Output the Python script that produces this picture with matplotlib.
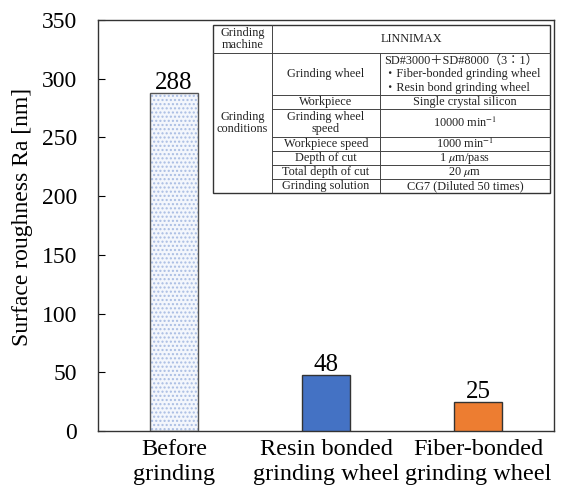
import matplotlib
matplotlib.use("Agg")
import matplotlib.pyplot as plt
from matplotlib.patches import Rectangle
from matplotlib.lines import Line2D

plt.rcParams['font.family'] = ['Liberation Serif', 'Noto Sans CJK JP', 'DejaVu Sans']
plt.rcParams['mathtext.fontset'] = 'stix'

categories = ["Before\ngrinding", "Resin bonded\ngrinding wheel", "Fiber-bonded\ngrinding wheel"]
values = [288, 48, 25]
bar_colors = ["#f3f6fc", "#4472C4", "#ED7D31"]
y_ticks = [0, 50, 100, 150, 200, 250, 300, 350]

# table content
table_rows = [
    ("Workpiece", "Single crystal silicon"),
    ("Grinding wheel\nspeed", r"10000 min$^{-1}$"),
    ("Workpiece speed", r"1000 min$^{-1}$"),
    ("Depth of cut", r"1 $\mu$m/pass"),
    ("Total depth of cut", r"20 $\mu$m"),
    ("Grinding solution", "CG7 (Diluted 50 times)"),
]
wheel_lines = ["SD#3000＋SD#8000（3：1）", "・Fiber-bonded grinding wheel", "・Resin bond grinding wheel"]

W, H = 564, 488
fig = plt.figure(figsize=(W / 100, H / 100), dpi=100)
ax = fig.add_axes([98 / W, 1 - 431 / H, (554 - 98) / W, (431 - 20) / H])

x = list(range(len(categories)))
bw = 0.32
# first bar: dotted fill
ax.bar(x[0], values[0], bw, color=bar_colors[0], edgecolor="#a9bde3", hatch="....", linewidth=0, zorder=2)
ax.bar(x[0], values[0], bw, fill=False, edgecolor="#555555", linewidth=1.0, zorder=3)
ax.bar(x[1:], values[1:], bw, color=bar_colors[1:], edgecolor="#333333", linewidth=1.0, zorder=3)

for xi, v in zip(x, values):
    ax.annotate(str(v), (xi, v), xytext=(0, -1), textcoords="offset points",
                ha="center", va="bottom", fontsize=18)

ax.set_xlim(-0.5, 2.5)
ax.set_ylim(0, 350)
ax.set_yticks(y_ticks)
ax.set_xticks(x)
ax.set_xticklabels(categories, fontsize=17.5, linespacing=1.25)
ax.tick_params(axis='y', direction='in', length=5, labelsize=17, pad=15, right=False)
ax.tick_params(axis='x', length=0, pad=6)
ax.set_ylabel("Surface roughness Ra [nm]", fontsize=17)
ax.yaxis.set_label_coords(-0.143, 0.52)
for s in ax.spines.values():
    s.set_linewidth(1.0)
    s.set_color("#333333")

# table drawn in figure pixel coordinates
def fx(px):
    return px / W

def fy(py):
    return 1 - py / H

L, C1, C2, R = 213, 272, 380, 550
row_y = [25, 53, 95, 109, 137, 151, 165, 179, 193]
fig.patches.append(Rectangle((fx(L), fy(row_y[-1])), fx(R) - fx(L), fy(row_y[0]) - fy(row_y[-1]),
                             transform=fig.transFigure, facecolor="white", edgecolor="#333333",
                             linewidth=1.0, zorder=5))
lc = "#444444"
def hline(y, x0, x1):
    fig.lines.append(Line2D([fx(x0), fx(x1)], [fy(y), fy(y)], transform=fig.transFigure,
                            color=lc, linewidth=0.7, zorder=6))
def vline(xp, y0, y1):
    fig.lines.append(Line2D([fx(xp), fx(xp)], [fy(y0), fy(y1)], transform=fig.transFigure,
                            color=lc, linewidth=0.7, zorder=6))

hline(row_y[1], L, R)
for yy in row_y[2:-1]:
    hline(yy, C1, R)
vline(C1, row_y[0], row_y[-1])
vline(C2, row_y[1], row_y[-1])

fs = 8.8
tc = "#222222"
def ttext(xp, yp, s, ha="center"):
    fig.text(fx(xp), fy(yp), s, ha=ha, va="center", fontsize=fs, color=tc, zorder=7, linespacing=1.0)

ttext((L + C1) / 2, (row_y[0] + row_y[1]) / 2, "Grinding\nmachine")
ttext((C1 + R) / 2, (row_y[0] + row_y[1]) / 2, "LINNIMAX")
ttext((L + C1) / 2, (row_y[1] + row_y[-1]) / 2, "Grinding\nconditions")
ttext((C1 + C2) / 2, (row_y[1] + row_y[2]) / 2, "Grinding wheel")
for i, s in enumerate(wheel_lines):
    ttext(384, row_y[1] + 7.5 + i * 13.5, s, ha="left")
for i, (a, b) in enumerate(table_rows):
    yc = (row_y[i + 2] + row_y[i + 3]) / 2
    ttext((C1 + C2) / 2, yc, a)
    ttext((C2 + R) / 2, yc, b)

fig.savefig("out.png", dpi=100)
